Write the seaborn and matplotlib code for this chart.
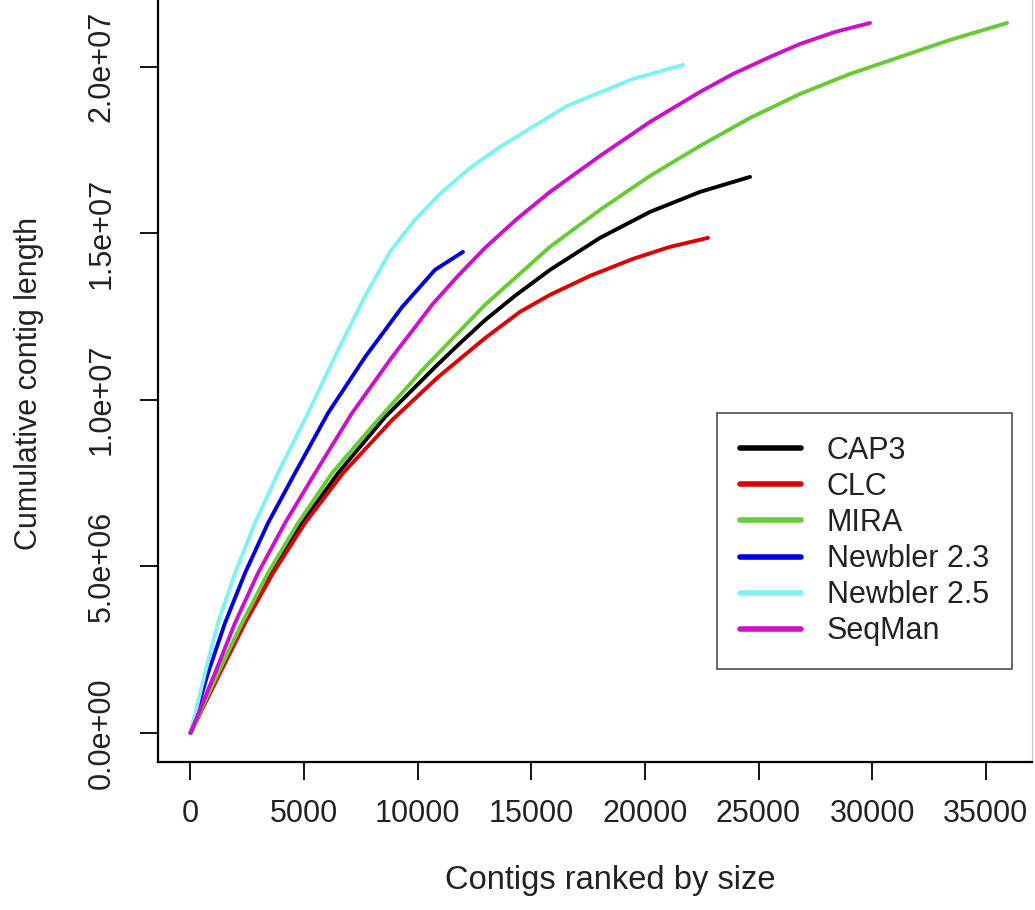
import pandas as pd
import seaborn as sns
import matplotlib.pyplot as plt

# Values (contig rank, cumulative length)
assemblers = ['CAP3', 'CLC', 'MIRA', 'Newbler 2.3', 'Newbler 2.5', 'SeqMan']
colors = ['#000000', '#DD0000', '#66CC33', '#0000DD', '#80F2F2', '#CC10CC']

cap3_x = [0, 1210, 2311, 3499, 4907, 6492, 8560, 10761, 11861, 12961, 14261, 15821, 18022,
          20223, 22424, 24625]
cap3_y = [0, 1.80e6, 3.30e6, 4.80e6, 6.30e6, 7.80e6, 9.48e6, 1.098e7, 1.170e7, 1.239e7,
          1.311e7, 1.390e7, 1.486e7, 1.564e7, 1.624e7, 1.669e7]

clc_x = [0, 1298, 2399, 3631, 5040, 6712, 8868, 10893, 12961, 14502, 15821, 17582, 19474,
         21102, 22776]
clc_y = [0, 1.80e6, 3.30e6, 4.80e6, 6.30e6, 7.80e6, 9.39e6, 1.068e7, 1.185e7, 1.264e7,
         1.315e7, 1.372e7, 1.423e7, 1.459e7, 1.486e7]

mira_x = [0, 1210, 2267, 3411, 4731, 6228, 8120, 10321, 12961, 15821, 18022, 20223, 22424,
          24625, 26825, 29026, 31226, 33427, 35935]
mira_y = [0, 1.80e6, 3.30e6, 4.80e6, 6.30e6, 7.80e6, 9.30e6, 1.098e7, 1.285e7, 1.459e7,
          1.570e7, 1.672e7, 1.762e7, 1.846e7, 1.918e7, 1.978e7, 2.029e7, 2.080e7, 2.131e7]

nb23_x = [0, 770, 1518, 2399, 3411, 4599, 6052, 7680, 9308, 10761, 11993]
nb23_y = [0, 1.80e6, 3.30e6, 4.80e6, 6.30e6, 7.80e6, 9.60e6, 1.128e7, 1.278e7, 1.390e7, 1.444e7]

nb25_x = [0, 638, 1210, 1958, 2839, 3851, 5172, 6492, 7680, 8780, 9880, 10981, 12301,
          13621, 16570, 19474, 21676]
nb25_y = [0, 1.80e6, 3.30e6, 4.80e6, 6.30e6, 7.80e6, 9.60e6, 1.149e7, 1.311e7, 1.444e7,
          1.540e7, 1.618e7, 1.696e7, 1.759e7, 1.882e7, 1.963e7, 2.005e7]

seqman_x = [0, 1078, 1958, 2971, 4159, 5480, 7108, 8868, 9748, 10629, 11772, 12961, 14370,
            15821, 18022, 20223, 22424, 23876, 25504, 26825, 28365, 29906]
seqman_y = [0, 1.80e6, 3.30e6, 4.80e6, 6.30e6, 7.80e6, 9.60e6, 1.128e7, 1.206e7, 1.285e7,
            1.372e7, 1.456e7, 1.543e7, 1.624e7, 1.732e7, 1.834e7, 1.924e7, 1.978e7, 2.029e7,
            2.068e7, 2.104e7, 2.131e7]

xticks = [0, 5000, 10000, 15000, 20000, 25000, 30000, 35000]
yticks = [0, 5e6, 1e7, 1.5e7, 2e7]
ytick_labels = ['0.0e+00', '5.0e+06', '1.0e+07', '1.5e+07', '2.0e+07']

all_x = [cap3_x, clc_x, mira_x, nb23_x, nb25_x, seqman_x]
all_y = [cap3_y, clc_y, mira_y, nb23_y, nb25_y, seqman_y]
df = pd.concat([pd.DataFrame({'rank': xs, 'length': ys, 'assembler': name})
                for name, xs, ys in zip(assemblers, all_x, all_y)], ignore_index=True)

sns.set_theme(style='white')
plt.rcParams['font.family'] = ['Liberation Sans', 'DejaVu Sans']
fs = 22

fig = plt.figure(figsize=(10.35, 9.1), dpi=100)
ax = fig.add_axes([158 / 1035, (910 - 762) / 910, (1032 - 158) / 1035, 771 / 910])

sns.lineplot(data=df, x='rank', y='length', hue='assembler', hue_order=assemblers,
             palette=dict(zip(assemblers, colors)), estimator=None, sort=False,
             linewidth=2.8, ax=ax)

ax.set_xlim(-1430, 37034)
ax.set_ylim(-8.7e5, 2.2269e7)

ax.set_xticks(xticks, labels=[str(t) for t in xticks])
ax.set_yticks(yticks, labels=ytick_labels, rotation=90, va='center')
ax.tick_params(axis='both', length=13, width=1.3, color='black', labelsize=fs,
               labelcolor='#222222', direction='out')
ax.tick_params(axis='x', pad=14, bottom=True)
ax.tick_params(axis='y', pad=17, left=True)

for side in ['left', 'bottom']:
    ax.spines[side].set_color('black')
    ax.spines[side].set_linewidth(1.6)
ax.spines['right'].set_color('#cccccc')
ax.spines['right'].set_linewidth(1.0)
ax.spines['top'].set_visible(False)

ax.set_xlabel('Contigs ranked by size', fontsize=fs + 1.5, color='#222222')
ax.set_ylabel('Cumulative contig length', fontsize=fs, color='#222222')
ax.xaxis.set_label_coords(0.517, -0.133)
ax.yaxis.set_label_coords(-0.13, 0.4916)

handles, labels = ax.get_legend_handles_labels()
for h in handles:
    h.set_linewidth(4)
leg = ax.legend(handles, labels, loc='upper left', bbox_to_anchor=(717 / 1035, 1 - 413 / 910),
                bbox_transform=fig.transFigure, fontsize=fs, frameon=True, fancybox=False,
                borderaxespad=0, borderpad=0.75, handlelength=2.0, handletextpad=0.84,
                labelspacing=0.2)
leg.get_frame().set_edgecolor('#333333')
leg.get_frame().set_linewidth(1.3)
for t in leg.get_texts():
    t.set_color('#222222')

fig.savefig('out.png', dpi=100)
